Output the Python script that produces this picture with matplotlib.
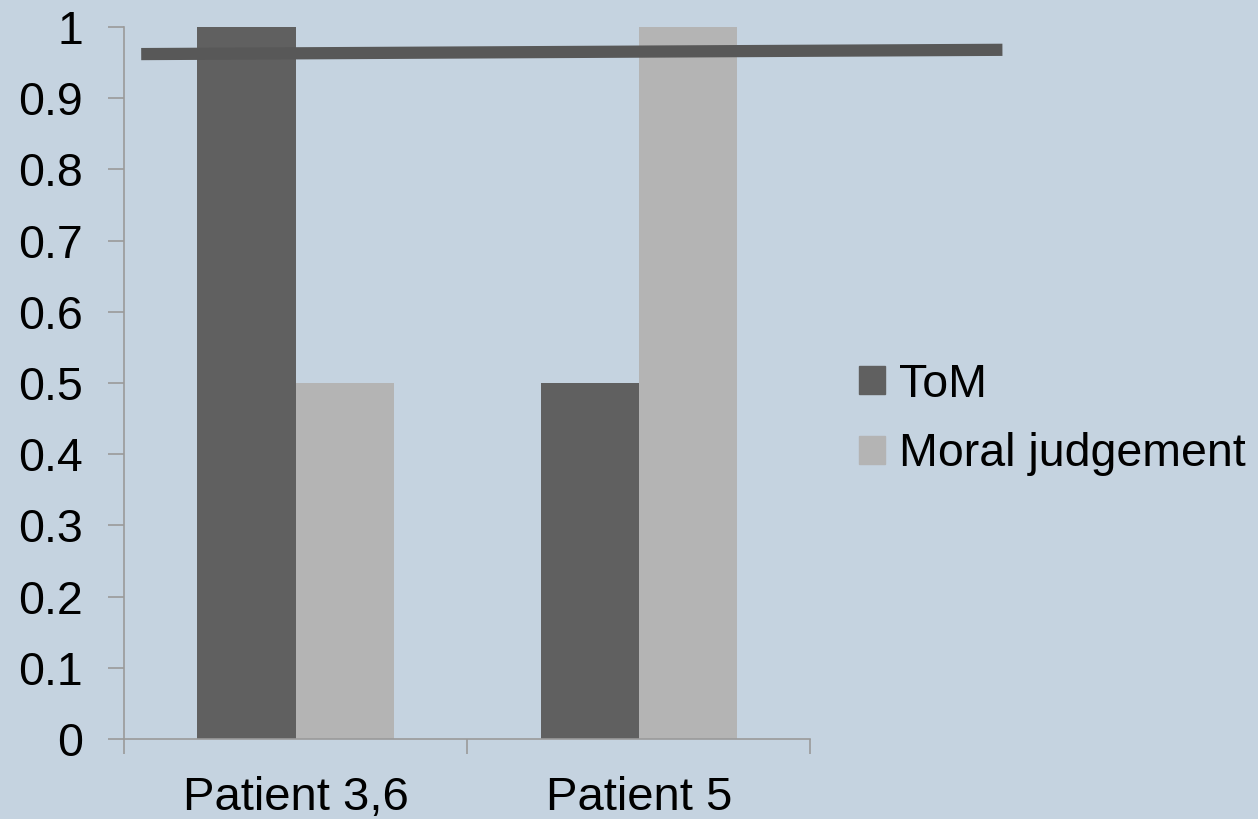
import matplotlib.pyplot as plt
from matplotlib.patches import Patch
import numpy as np

plt.rcParams['font.family'] = ['Liberation Sans', 'DejaVu Sans']

patients = ["Patient 3,6", "Patient 5"]
tom = [1.0, 0.5]
moral = [0.5, 1.0]

# reference line drawn across the chart
ref_x = [-0.45, 2.06]
ref_y = [0.962, 0.968]

bg = '#c5d3e0'
dark = '#606060'
light = '#b4b4b4'
spine = '#9a9a9a'

fig = plt.figure(figsize=(12.58, 8.19), dpi=100, facecolor=bg)
ax = fig.add_axes([0.0986, 0.0977, 0.5455, 0.8693])
ax.set_facecolor(bg)

x = np.arange(len(patients))
w = 0.286
ax.bar(x - w / 2, tom, w, color=dark, zorder=2)
ax.bar(x + w / 2, moral, w, color=light, zorder=2)

ax.plot(ref_x, ref_y, color='#585858', lw=8.8, solid_capstyle='butt',
        clip_on=False, zorder=3)

ax.set_xlim(-0.5, len(patients) - 0.5)
ax.set_ylim(0, 1)
ax.set_yticks(np.arange(0, 1.01, 0.1))
ax.set_yticklabels(['0'] + ['%.1f' % v for v in np.arange(0.1, 0.95, 0.1)] + ['1'])

ax.set_xticks(x)
ax.set_xticklabels(patients)
ax.set_xticks(np.arange(-0.5, len(patients), 1.0), minor=True)
ax.tick_params(axis='x', which='major', length=0, pad=27, labelsize=34)
ax.tick_params(axis='x', which='minor', length=11, width=1.2, color=spine)
ax.tick_params(axis='y', length=11.5, width=1.2, color=spine, pad=18, labelsize=33.5)

for s in ['top', 'right']:
    ax.spines[s].set_visible(False)
for s in ['left', 'bottom']:
    ax.spines[s].set_color(spine)
    ax.spines[s].set_linewidth(1.2)

handles = [Patch(color=dark, label='ToM'), Patch(color=light, label='Moral judgement')]
fig.legend(handles=handles, loc='center left', bbox_to_anchor=(0.668, 0.488),
           frameon=False, fontsize=33.5, handlelength=0.55, handleheight=0.55,
           handletextpad=0.3, labelspacing=0.55, borderaxespad=0)

fig.savefig('out.png', dpi=100, facecolor=bg)
